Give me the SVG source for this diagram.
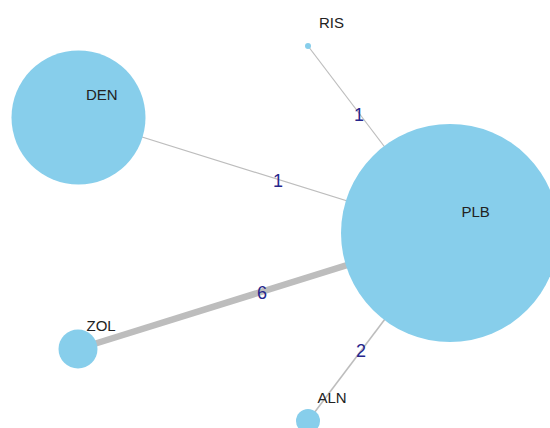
<svg xmlns="http://www.w3.org/2000/svg" width="550" height="428" viewBox="0 0 550 428">
  <style>
    .edge { stroke: #bdbdbd; fill: none; stroke-linecap: butt; }
    .node { fill: #87ceeb; }
    .nlabel { font-family: "Liberation Sans", Arial, sans-serif; font-size: 15px; fill: #222; }
    .elabel { font-family: "Liberation Sans", Arial, sans-serif; font-size: 18px; fill: #26268c; text-anchor: middle; }
  </style>
  <rect width="550" height="428" fill="#ffffff"/>
  <g id="edges">
    <line class="edge" x1="78" y1="117" x2="450" y2="233" stroke-width="1.2"/>
    <line class="edge" x1="308" y1="46" x2="450" y2="233" stroke-width="1.2"/>
    <line class="edge" x1="78" y1="349" x2="450" y2="233" stroke-width="6.5"/>
    <line class="edge" x1="308" y1="421" x2="450" y2="233" stroke-width="1.6"/>
    <text class="elabel" x="278" y="187" font-size="16">1</text>
    <text class="elabel" x="359" y="121">1</text>
    <text class="elabel" x="262" y="299">6</text>
    <text class="elabel" x="361" y="357">2</text>
  </g>
  <g id="node-DEN">
    <circle class="node" cx="78.5" cy="117.5" r="67"/>
    <text class="nlabel" x="86" y="99.5">DEN</text>
  </g>
  <g id="node-PLB">
    <circle class="node" cx="450" cy="233" r="109"/>
    <text class="nlabel" x="461.5" y="217">PLB</text>
  </g>
  <g id="node-RIS">
    <circle class="node" cx="308" cy="46" r="3"/>
    <text class="nlabel" x="319" y="28">RIS</text>
  </g>
  <g id="node-ZOL">
    <circle class="node" cx="78" cy="349" r="19.5"/>
    <text class="nlabel" x="86.5" y="331">ZOL</text>
  </g>
  <g id="node-ALN">
    <circle class="node" cx="308" cy="421" r="12"/>
    <text class="nlabel" x="317.5" y="403">ALN</text>
  </g>
</svg>
